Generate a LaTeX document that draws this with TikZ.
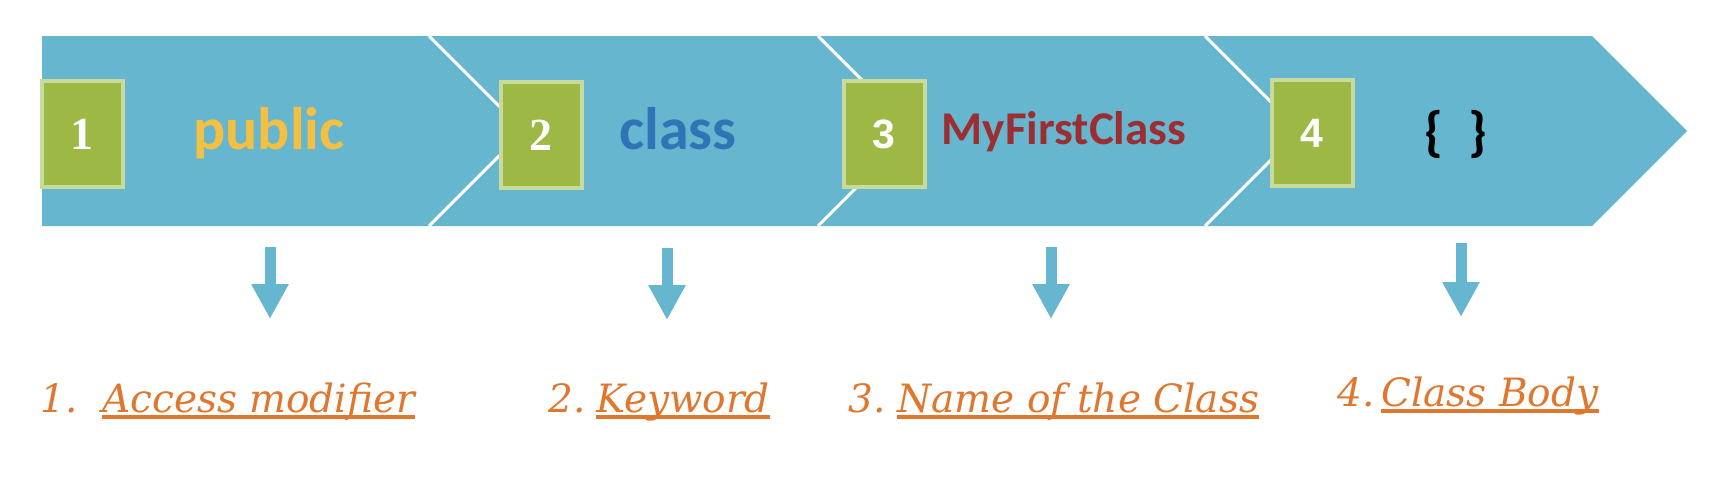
\documentclass[tikz,border=0pt]{standalone}
\usepackage{fontspec}
\usetikzlibrary{arrows.meta}
\newfontfamily\wordfont{Carlito}
\newfontfamily\serifnum{Liberation Serif}
\newfontfamily\sansnum{Liberation Sans}
\newfontfamily\labfont{DejaVu Serif}
\newcommand{\numserif}{\serifnum\bfseries\fontsize{46}{52}\selectfont}
\newcommand{\numsans}{\sansnum\bfseries\fontsize{41}{48}\selectfont}
\definecolor{bandblue}{RGB}{103,182,207}
\definecolor{boxgreen}{RGB}{157,184,68}
\definecolor{boxrim}{RGB}{200,218,156}
\definecolor{pubyellow}{RGB}{244,192,66}
\definecolor{kwblue}{RGB}{48,116,184}
\definecolor{namered}{RGB}{156,45,48}
\definecolor{labcol}{RGB}{224,119,47}

\begin{document}
\begin{tikzpicture}[
   x=1pt,y=-1pt,
   numbox/.style={rectangle,fill=boxgreen,draw=boxrim,line width=4pt,
     minimum width=81pt,minimum height=106pt,inner sep=0pt,text=white},
   cut/.style={white,line width=3pt},
   darr/.style={bandblue,line width=11pt,-{Triangle[length=35pt,width=35pt]}},
   word/.style={font=\wordfont\bfseries\fontsize{60}{70}\selectfont,inner sep=0pt,anchor=base},
   lab/.style={text=labcol,font=\labfont\itshape\fontsize{39}{46}\selectfont,inner sep=0pt,anchor=base west},
   uline/.style={labcol,line width=4pt}
 ]
  \useasboundingbox (0,0) rectangle (1712,482);

  \fill[bandblue] (42,36) -- (1592,36) -- (1687,131) -- (1592,226) -- (42,226) -- cycle;
  \foreach \x in {429,818,1205}
    \draw[cut] (\x,36) -- (\x+95,131) -- (\x,226);

  \foreach \x/\y/\i/\ff in {82/134/1/\numserif,541/135/2/\numserif,884/134/3/\numsans,1312/133/4/\numsans}
    \node[numbox,font=\ff] (b\i) at (\x,\y) {\i};

  \node[word,text=pubyellow] (w1) at (269,149) {public};
  \node[word,text=kwblue] (w2) at (678,149) {class};
  \node[word,text=namered,font=\wordfont\bfseries\fontsize{47}{56}\selectfont] (w3) at (1064,144) {MyFirstClass};
  \node[word,text=black,font=\wordfont\bfseries\fontsize{55}{64}\selectfont] (w4) at (1456,150) {\{\ \ \}};

  \foreach \x/\t/\b/\i in {270/247/319/1,667/248/320/2,1051/247/319/3,1461/243/317/4} {
    \coordinate (t\i) at (\x,\t);
    \coordinate (h\i) at (\x,\b);
    \draw[darr] (t\i) -- (h\i);
  }

  \node[lab] (n1) at (40,412) {1.};
  \node[lab] (l1) at (102,412) {Access modifier};
  \node[lab] (n2) at (548,412) {2.};
  \node[lab] (l2) at (596,412) {Keyword};
  \node[lab] (n3) at (848,412) {3.};
  \node[lab] (l3) at (897,412) {Name of the Class};
  \node[lab] (n4) at (1337,406) {4.};
  \node[lab] (l4) at (1381,406) {Class Body};
  \foreach \i in {1,...,4}
    \draw[uline] ([yshift=-5pt]l\i.base west) -- ([yshift=-5pt]l\i.base east);
\end{tikzpicture}
\end{document}
